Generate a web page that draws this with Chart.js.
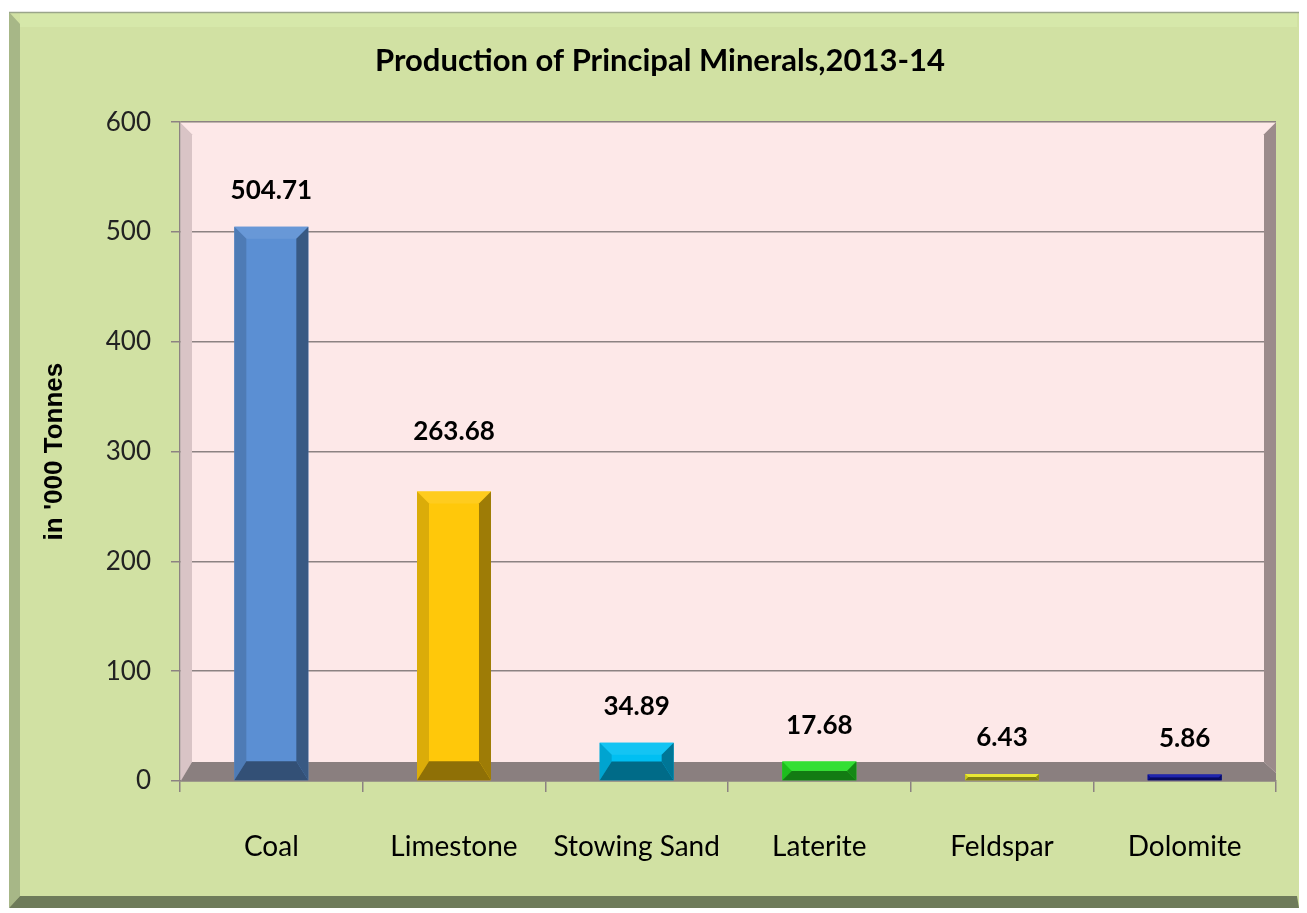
<!DOCTYPE html>
<html>
<head>
<meta charset="utf-8">
<script src="https://cdn.jsdelivr.net/npm/chart.js@4.4.1/dist/chart.umd.min.js"></script>
<style>
  body { margin: 0; background: #ffffff; }
  #wrap { width: 1307px; height: 913px; }
</style>
</head>
<body>
<div id="wrap"><canvas id="my-chart" width="1307" height="913"></canvas></div>
<script>
const minerals = ["Coal", "Limestone", "Stowing Sand", "Laterite", "Feldspar", "Dolomite"];
const production = [504.71, 263.68, 34.89, 17.68, 6.43, 5.86];
const yTicks = [0, 100, 200, 300, 400, 500, 600];

const barColors = ["#5b8fd3", "#ffc80a", "#00bff2", "#22dc22", "#e6e622", "#0c12a6"];

const face = 'Lato, "DejaVu Sans Condensed", sans-serif';

// darken / lighten a hex colour
const shade = (hex, f) => {
  const n = parseInt(hex.slice(1), 16);
  const ch = [(n >> 16) & 255, (n >> 8) & 255, n & 255].map((c) =>
    f < 1 ? Math.round(c * f) : Math.round(c + (255 - c) * (f - 1))
  );
  return `rgb(${ch[0]}, ${ch[1]}, ${ch[2]})`;
};

const poly = (ctx, pts, color) => {
  ctx.beginPath();
  ctx.moveTo(pts[0][0], pts[0][1]);
  pts.slice(1).forEach((p) => ctx.lineTo(p[0], p[1]));
  ctx.closePath();
  ctx.fillStyle = color;
  ctx.fill();
};

// green panel, pink back wall, side wall and floor
const panelPlugin = {
  id: "panel",
  beforeDraw(chart) {
    const { ctx, chartArea: a, width, height } = chart;
    ctx.save();
    ctx.fillStyle = "#ffffff";
    ctx.fillRect(0, 0, width, height);
    ctx.fillStyle = "#d1e1a3";
    ctx.fillRect(10, 12, width - 18, height - 17);
    ctx.fillStyle = "#d6e8aa";
    ctx.fillRect(20, 13, width - 30, 14);
    poly(ctx, [[9, 12], [20, 24], [20, height - 17], [9, height - 5]], "#a7b787");
    poly(ctx, [[9, height - 5], [20, height - 17], [width - 10, height - 17], [width - 8, height - 5]], "#6e7b5a");
    ctx.strokeStyle = "#9aa58a";
    ctx.lineWidth = 1.5;
    ctx.beginPath();
    ctx.moveTo(9, 12.5);
    ctx.lineTo(width - 8, 12.5);
    ctx.stroke();
    ctx.fillStyle = "#fde8e8";
    ctx.fillRect(a.left, a.top, a.right - a.left, a.bottom - a.top);
    ctx.restore();
  },
  beforeDatasetsDraw(chart) {
    const { ctx, chartArea: a } = chart;
    ctx.save();
    const d = 12;
    // left side wall
    poly(ctx, [[a.left + 1, a.top + 1], [a.left + d, a.top + d], [a.left + d, a.bottom - 19], [a.left + 1, a.bottom]], "#d9c4c6");
    // right shadow
    poly(ctx, [[a.right, a.top], [a.right - d, a.top + d], [a.right - d, a.bottom - 19], [a.right, a.bottom - 8]], "#9b8b8b");
    // floor
    poly(ctx, [[a.left + 1, a.bottom - 0.5], [a.left + d, a.bottom - 19], [a.right - d, a.bottom - 19], [a.right, a.bottom - 8], [a.right, a.bottom - 0.5]], "#8a7f7f");
    ctx.restore();
  },
  afterDatasetsDraw(chart, args, opts) {
    const { ctx } = chart;
    const meta = chart.getDatasetMeta(0);
    ctx.save();
    meta.data.forEach((bar, i) => {
      const { x, y, base, width } = bar.getProps(["x", "y", "base", "width"], true);
      const l = x - width / 2;
      const r = x + width / 2;
      const h = base - y;
      const b = Math.min(12, h / 2);
      const bb = Math.min(19, h / 2);
      const c = barColors[i];
      poly(ctx, [[l, y], [r, y], [r - b, y + b], [l + b, y + b]], shade(c, 1.08));
      poly(ctx, [[l, y], [l + b, y + b], [l + b, base - bb], [l, base]], shade(c, 0.86));
      poly(ctx, [[r, y], [r - b, y + b], [r - b, base - bb], [r, base]], shade(c, 0.62));
      poly(ctx, [[l, base], [l + b, base - bb], [r - b, base - bb], [r, base]], shade(c, 0.56));
      // value label
      const off = (opts.labelOffsets && opts.labelOffsets[i]) || 36;
      ctx.fillStyle = "#000000";
      ctx.font = `bold 26px ${face}`;
      ctx.textAlign = "center";
      ctx.textBaseline = "middle";
      ctx.fillText(production[i].toFixed(2), x, y - off);
    });
    ctx.restore();
  },
};

const ctx = document.getElementById("my-chart").getContext("2d");

const chart = new Chart(ctx, {
  type: "bar",
  data: {
    labels: minerals,
    datasets: [
      {
        label: "Production",
        data: production,
        backgroundColor: barColors,
        borderWidth: 0,
        barPercentage: 0.405,
        categoryPercentage: 1,
      },
    ],
  },
  options: {
    responsive: false,
    animation: false,
    layout: { padding: { left: 44, right: 31, top: 0, bottom: 0 } },
    plugins: {
      legend: { display: false },
      tooltip: { enabled: false },
      title: {
        display: true,
        text: "Production of Principal Minerals,2013-14",
        color: "#000000",
        font: { family: face, size: 31, weight: "bold" },
        padding: { top: 42, bottom: 43 },
      },
      panel: { labelOffsets: { 1: 60 } },
    },
    scales: {
      y: {
        min: 0,
        max: 600,
        afterFit: (s) => { s.width = 136; },
        afterBuildTicks: (s) => { s.ticks = yTicks.map((v) => ({ value: v })); },
        ticks: {
          color: "#222222",
          padding: 20,
          font: { family: face, size: 26 },
        },
        grid: { color: "#8c8282", lineWidth: 1.5, tickLength: 9 },
        border: { color: "#8c8282", width: 1.5 },
        title: {
          display: true,
          text: "in '000 Tonnes",
          color: "#000000",
          font: { family: '"Liberation Sans", Arial, sans-serif', size: 26, weight: "bold" },
          padding: { top: -5, bottom: 0 },
        },
      },
      x: {
        afterFit: (s) => { s.height = 132; },
        ticks: {
          color: "#000000",
          padding: 38,
          maxRotation: 0,
          autoSkip: false,
          font: { family: face, size: 28 },
        },
        grid: { offset: true, drawOnChartArea: false, color: "#8c8282", lineWidth: 1.5, tickLength: 11 },
        border: { color: "#8c8282", width: 1.5 },
      },
    },
  },
  plugins: [panelPlugin],
});
</script>
</body>
</html>
